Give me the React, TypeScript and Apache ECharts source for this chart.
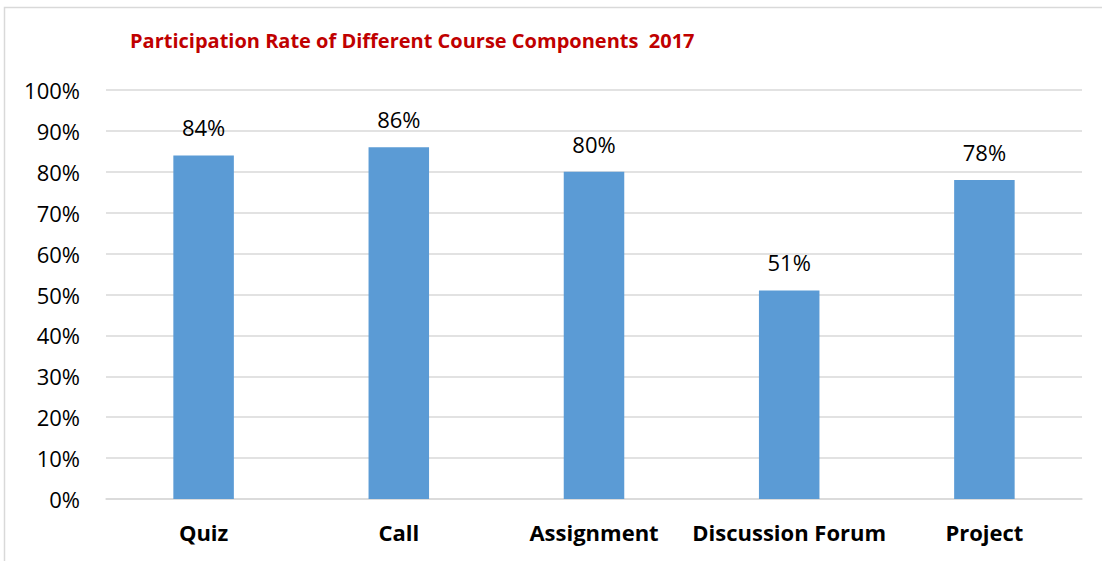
import React, { useEffect, useRef } from "react";
import * as echarts from "echarts";

const categories = ["Quiz", "Call", "Assignment", "Discussion Forum", "Project"];
const rates = [84, 86, 80, 51, 78];
const yTicks = [0, 10, 20, 30, 40, 50, 60, 70, 80, 90, 100];
const titleText = "Participation Rate of Different Course Components  2017";

export default function App() {
  const ref = useRef<HTMLDivElement>(null);
  useEffect(() => {
    if (!ref.current) return;
    const chart = echarts.init(ref.current, null, { renderer: "svg" });
    const font = "'Open Sans', Lato, sans-serif";
    chart.setOption({
      animation: false,
      backgroundColor: "#ffffff",
      graphic: [
        {
          type: "rect",
          shape: { x: 4.5, y: 7.5, width: 1200, height: 700 },
          style: { fill: "none", stroke: "#d9d9d9", lineWidth: 1.5 },
          silent: true,
        },
        {
          type: "text",
          left: 130,
          top: 30,
          style: {
            text: titleText,
            fill: "#c00000",
            font: `bold 20px ${font}`,
          },
        },
      ],
      grid: { left: 106, right: 20, top: 90, bottom: 62, containLabel: false },
      xAxis: {
        type: "category",
        data: categories,
        axisLine: { show: true, lineStyle: { color: "#d9d9d9", width: 1.5 } },
        axisTick: { show: false },
        axisLabel: {
          color: "#000",
          fontSize: 22,
          fontWeight: "bold",
          fontFamily: font,
          margin: 22,
          interval: 0,
        },
      },
      yAxis: {
        type: "value",
        min: yTicks[0],
        max: yTicks[yTicks.length - 1],
        interval: 10,
        axisLine: { show: false },
        axisTick: { show: false },
        splitLine: { lineStyle: { color: "#d9d9d9", width: 1.5 } },
        axisLabel: {
          color: "#000",
          fontSize: 22,
          fontFamily: font,
          margin: 26,
          formatter: (v: number) => `${v}%`,
        },
      },
      series: [
        {
          type: "bar",
          data: rates,
          barWidth: "31%",
          itemStyle: { color: "#5b9bd5" },
          label: {
            show: true,
            position: "top",
            distance: 17,
            color: "#000",
            fontSize: 22,
            fontFamily: font,
            formatter: (p: any) => `${p.value}%`,
          },
        },
      ],
    });
    return () => chart.dispose();
  }, []);
  return (
    <div
      ref={ref}
      style={{ position: "fixed", left: 0, top: 0, width: 1102, height: 561 }}
    />
  );
}
